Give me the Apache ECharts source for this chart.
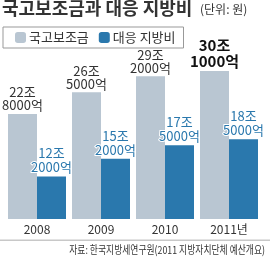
<!DOCTYPE html>
<html><head><meta charset="utf-8">
<script src="https://cdn.jsdelivr.net/npm/echarts@6/dist/echarts.min.js"></script>
<style>html,body{margin:0;padding:0;background:#fff}#c{width:270px;height:258px}</style>
</head><body><div id="c"></div>
<script>
const categories = ['2008', '2009', '2010', '2011년'];
const subsidy = [22.8, 26.5, 29.2, 30.1];
const localFund = [12.2, 15.2, 17.5, 18.5];
const subsidyLabels = ['22조\n8000억', '26조\n5000억', '29조\n2000억', '30조\n1000억'];
const localLabels = ['12조\n2000억', '15조\n2000억', '17조\n5000억', '18조\n5000억'];
const seriesNames = ['국고보조금', '대응 지방비'];

const F = '"Noto Sans CJK KR", sans-serif';
const GRAY = '#b9c6d2', BLUE = '#2a78ad';
const chart = echarts.init(document.getElementById('c'));
chart.setOption({
  animation: false,
  textStyle: { fontFamily: F },
  legend: {
    left: 3, top: 27, padding: [4, 8, 4, 12], itemGap: 10,
    borderColor: '#999', borderWidth: 1,
    itemWidth: 11, itemHeight: 11,
    textStyle: { fontFamily: F, fontSize: 13, color: '#333', padding: [0, 0, 0, -2] },
    data: seriesNames
  },
  grid: { left: 5, right: 9, top: 12.5, bottom: 39 },
  xAxis: {
    type: 'category', data: categories,
    axisLine: { show: false }, axisTick: { show: false },
    axisLabel: { fontFamily: F, fontSize: 12, color: '#333', margin: 4 }
  },
  yAxis: { type: 'value', min: 5, max: 40, show: false, splitLine: { show: false } },
  graphic: [
    { type: 'text', x: 2, y: -1, style: { text: '국고보조금과 대응 지방비', font: 'bold 18px "Noto Sans CJK KR", sans-serif', fill: '#333' } },
    { type: 'text', x: 200, y: 3, style: { text: '(단위: 원)', font: '12px "Noto Sans CJK KR", sans-serif', fill: '#333' } },
    { type: 'rect', shape: { x: 0, y: 239.5, width: 270, height: 1.5 }, style: { fill: '#c8c8c8' } },
    { type: 'text', x: 265, y: 244, scaleX: 0.8, style: { text: '자료: 한국지방세연구원(2011 지방자치단체 예산개요)', font: '11px "Noto Sans CJK KR", sans-serif', fill: '#333', align: 'right' } }
  ],
  series: [
    {
      name: seriesNames[0], type: 'bar', barWidth: 29, barGap: '0%',
      itemStyle: { color: GRAY },
      data: subsidy.map((v, i) => ({
        value: v,
        label: {
          show: true, position: 'top', distance: 2,
          formatter: subsidyLabels[i],
          fontFamily: F,
          fontSize: i === 3 ? 15 : 13,
          fontWeight: i === 3 ? 'bold' : 'normal',
          color: i === 3 ? '#111' : '#333',
          lineHeight: i === 3 ? 16 : 13
        }
      }))
    },
    {
      name: seriesNames[1], type: 'bar', barWidth: 29, barGap: '0%',
      itemStyle: { color: BLUE },
      data: localFund.map((v, i) => ({
        value: v,
        label: {
          show: true, position: 'top', distance: 2,
          formatter: localLabels[i],
          fontFamily: F, fontSize: 13, lineHeight: 14,
          color: BLUE, textBorderColor: '#fff', textBorderWidth: 2
        }
      }))
    }
  ]
});
</script></body></html>
